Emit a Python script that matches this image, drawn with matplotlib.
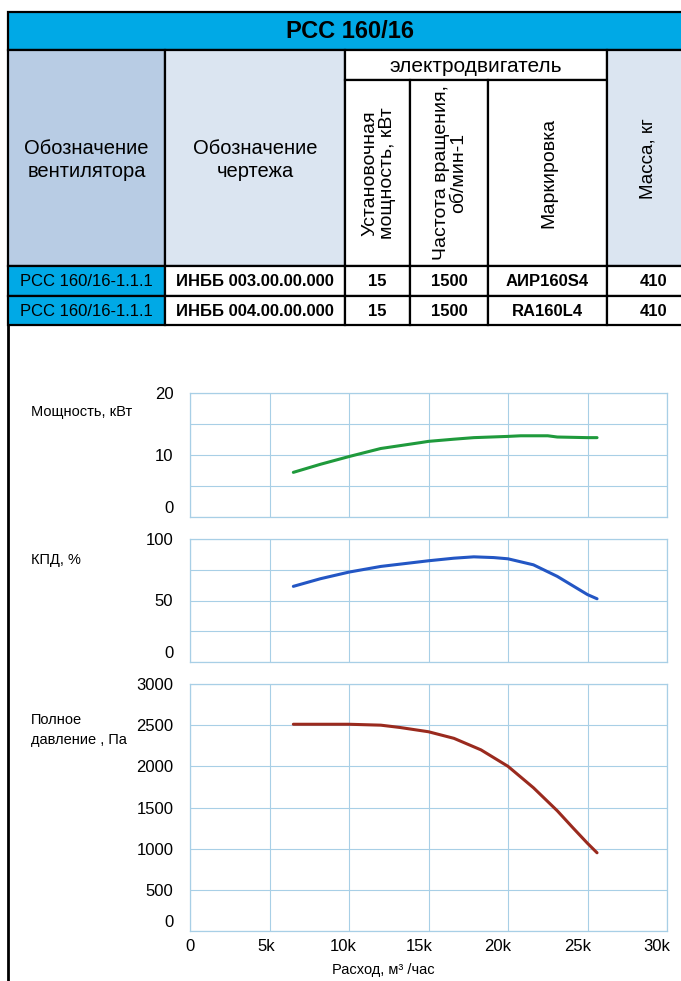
import numpy as np
import matplotlib
matplotlib.use("Agg")
import matplotlib.pyplot as plt
from matplotlib.patches import Rectangle
from matplotlib.transforms import ScaledTranslation

# --- данные таблицы ---
title = "РСС 160/16"
header_left = ["Обозначение\nвентилятора", "Обозначение\nчертежа"]
motor_group = "электродвигатель"
motor_cols = ["Установочная\nмощность, кВт", "Частота вращения,\nоб/мин-1", "Маркировка"]
mass_col = "Масса, кг"
rows = [
    ["РСС 160/16-1.1.1", "ИНББ 003.00.00.000", "15", "1500", "АИР160S4", "410"],
    ["РСС 160/16-1.1.1", "ИНББ 004.00.00.000", "15", "1500", "RA160L4", "410"],
]

# --- данные графиков (расход, м3/час) ---
power_x = [6500, 8200, 10000, 12000, 14500, 15000, 16600, 17850, 20000, 20800, 22500, 23100, 25000, 25600]
power_y = [7.2, 8.5, 9.75, 11.05, 12.0, 12.2, 12.55, 12.8, 13.0, 13.1, 13.1, 12.9, 12.8, 12.8]

eff_x = [6500, 8200, 10000, 12000, 15000, 16600, 17850, 19100, 20000, 21600, 23100, 25000, 25600]
eff_y = [61.5, 67.7, 73.1, 77.7, 82.3, 84.4, 85.5, 84.9, 83.9, 79, 69.6, 54.8, 51.4]

press_x = [6500, 10000, 12000, 13200, 15000, 16600, 18300, 20000, 21600, 23100, 24100, 25000, 25600]
press_y = [2511, 2511, 2500, 2472, 2420, 2340, 2200, 2000, 1740, 1460, 1250, 1065, 950]

x_ticks = [0, 5000, 10000, 15000, 20000, 25000, 30000]
x_labels = ["0", "5k", "10k", "15k", "20k", "25k", "30k"]

W, H = 681, 981
CYAN = "#00a9e6"
DARK = "#b8cce4"
LIGHT = "#dbe5f1"
GRID = "#a8cfe6"

tfont = ["Liberation Sans", "DejaVu Sans"]
cfont = ["Liberation Sans", "DejaVu Sans"]

fig = plt.figure(figsize=(W / 100, H / 100), dpi=100)
bg = fig.add_axes([0, 0, 1, 1])
bg.set_xlim(0, W)
bg.set_ylim(H, 0)
bg.axis("off")


def box(x0, y0, x1, y1, color):
    bg.add_patch(Rectangle((x0, y0), x1 - x0, y1 - y0, facecolor=color,
                           edgecolor="black", lw=1.6))


# шапка таблицы
cols = [8, 165, 345, 410, 488, 607, 700]
box(8, 12, 700, 50, CYAN)
bg.text(350, 32, title, ha="center", va="center", fontsize=17,
        fontweight="bold", family=tfont)

box(cols[0], 50, cols[1], 266, DARK)
box(cols[1], 50, cols[2], 266, LIGHT)
box(cols[2], 50, cols[5], 80, "white")
for i in range(3):
    box(cols[2 + i], 80, cols[3 + i], 266, "white")
box(cols[5], 50, cols[6], 266, LIGHT)

for i, t in enumerate(header_left):
    bg.text((cols[i] + cols[i + 1]) / 2, 160, t, ha="center", va="center",
            fontsize=14.5, family=tfont, linespacing=1.25)
bg.text((cols[2] + cols[5]) / 2, 66, motor_group, ha="center", va="center",
        fontsize=15, family=tfont)
for i, t in enumerate(motor_cols):
    bg.text((cols[2 + i] + cols[3 + i]) / 2 + 1, 173, t, ha="center", va="center",
            rotation=90, fontsize=14, family=tfont, linespacing=1.05)
bg.text(648, 159, mass_col, ha="center", va="center", rotation=90,
        fontsize=13.5, family=tfont)

# строки таблицы
row_y = [266, 296, 325]
for r, row in enumerate(rows):
    for c, val in enumerate(row):
        box(cols[c], row_y[r], cols[c + 1], row_y[r + 1], CYAN if c == 0 else "white")
        bg.text((cols[c] + cols[c + 1]) / 2, (row_y[r] + row_y[r + 1]) / 2 + 1, val,
                ha="center", va="center", fontsize=12, family=tfont,
                fontweight="bold" if c > 0 else "normal")

# рамка вокруг графиков
bg.plot([8, 8], [325, H], color="black", lw=2)


def shift(lab, dx, dy):
    lab.set_transform(lab.get_transform() + ScaledTranslation(dx / 100, dy / 100, fig.dpi_scale_trans))


def panel(y0, y1, xs, ys, color, ymax, major, minor, label, label_y):
    ax = fig.add_axes([190 / W, 1 - y1 / H, (667 - 190) / W, (y1 - y0) / H])
    ax.plot(xs, ys, color=color, lw=2.2, solid_capstyle="round")
    ax.set_xlim(0, 30000)
    ax.set_ylim(0, ymax)
    ax.set_xticks(x_ticks)
    ax.set_yticks(major)
    ax.set_yticks(minor, minor=True)
    ax.grid(True, which="both", color=GRID, lw=0.8)
    ax.tick_params(which="both", length=0, labelsize=12, pad=12)
    labs = ax.get_yticklabels()
    for lab in labs:
        lab.set_family(cfont)
    shift(labs[0], 0, 10)
    for s in ax.spines.values():
        s.set_color(GRID)
        s.set_linewidth(0.9)
    bg.text(31, label_y, label, ha="left", va="center", fontsize=10.5,
            family=cfont, linespacing=1.6)
    return ax


ax1 = panel(393, 517, power_x, power_y, "#1f9a3c", 20, [0, 10, 20], [5, 15],
            "Мощность, кВт", 412)
ax1.set_xticklabels([])
ax2 = panel(539, 662, eff_x, eff_y, "#2356c4", 100, [0, 50, 100], [25, 75],
            "КПД, %", 560)
ax2.set_xticklabels([])
ax3 = panel(684, 931, press_x, press_y, "#9a2a1e", 3000, list(range(0, 3001, 500)), [],
            "Полное\nдавление , Па", 730)
ax3.set_xticklabels(x_labels, family=cfont)
ax3.tick_params(axis="x", pad=6)
for i, lab in enumerate(ax3.get_xticklabels()):
    shift(lab, -min(i * 3, 10), 0)
bg.text(383, 970, "Расход, м³ /час", ha="center", va="center", fontsize=10.5,
        family=cfont)

fig.savefig("out.png", dpi=100)
